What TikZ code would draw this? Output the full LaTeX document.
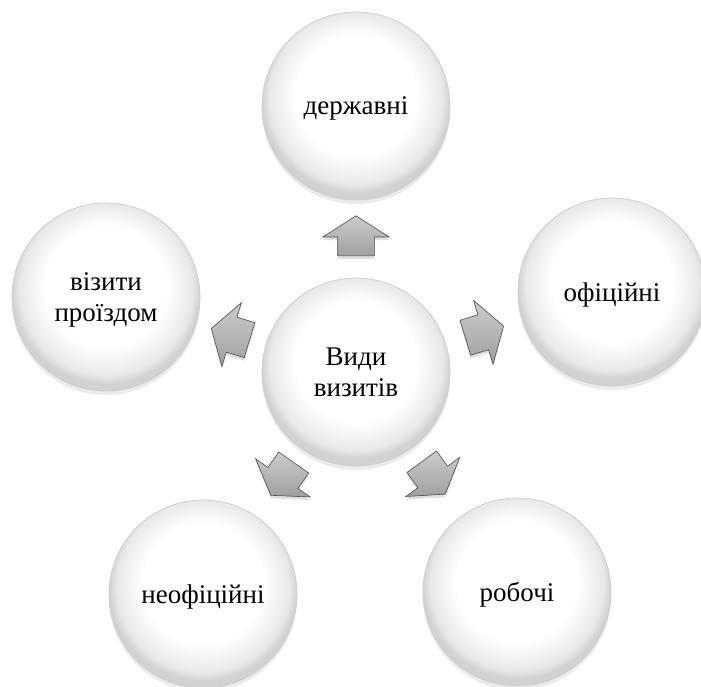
\documentclass[tikz,border=0pt]{standalone}
\usepackage{fontspec}
\setmainfont{Liberation Serif}
\usetikzlibrary{shapes.arrows,shadows,calc}

\pgfdeclareradialshading{bubbleshade}{\pgfpoint{0bp}{4bp}}{%
    color(0bp)=(white); color(16bp)=(white); color(23bp)=(gray!18);
    color(25bp)=(gray!35); color(50bp)=(gray!35)}

\tikzset{
    bubble/.style={circle, minimum size=188pt, inner sep=0pt, align=center,
        draw=gray!40, line width=0.7pt, shading=bubbleshade,
        drop shadow={shadow xshift=0pt, shadow yshift=-4pt, opacity=0.2, fill=gray!80},
        font=\fontsize{27}{31}\selectfont, text depth=-8pt},
    blockarrow/.style={single arrow, minimum height=40pt, inner xsep=0pt, inner ysep=18pt,
        single arrow head extend=15pt, single arrow tip angle=115,
        draw=gray!60!black, line width=0.6pt,
        top color=gray!40, bottom color=gray!75,
        drop shadow={shadow xshift=0pt, shadow yshift=-3pt, opacity=0.25}}
}

\begin{document}
\begin{tikzpicture}[x=1pt, y=-1pt]
    \useasboundingbox (0,0) rectangle (701,686);
    \node[bubble] (types) at (356,372) {Види\\визитів};
    \node[bubble] (state) at (356,106) {державні};
    \node[bubble] (official) at (612,292) {офіційні};
    \node[bubble] (transit) at (106,297) {візити\\проїздом};
    \node[bubble] (informal) at (203,594) {неофіційні};
    \node[bubble] (working) at (517,592) {робочі};
    \node[blockarrow, rotate=90] (a1) at ($(types)!0.49!(state)$) {};
    \node[blockarrow, rotate=17] (a2) at ($(types)!0.48!(official)$) {};
    \node[blockarrow, rotate=163] (a3) at ($(types)!0.48!(transit)$) {};
    \node[blockarrow, rotate=235] (a4) at ($(types)!0.46!(informal)$) {};
    \node[blockarrow, rotate=306] (a5) at ($(types)!0.46!(working)$) {};
\end{tikzpicture}
\end{document}
